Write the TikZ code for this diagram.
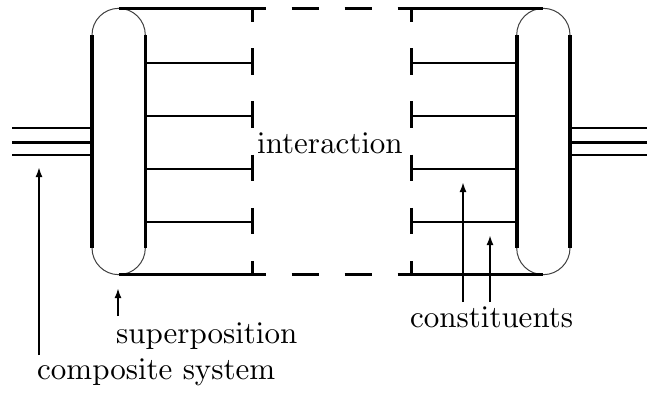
\documentclass[tikz,border=0pt]{standalone}
\usetikzlibrary{arrows.meta}
\font\lblfont=cmr10 at 31pt
\begin{document}
\begin{tikzpicture}[x=1pt,y=-1pt,
  lbl/.style={inner sep=0pt,font=\lblfont},
  railthick/.style={line width=3pt},
  sidebar/.style={line width=3.6pt},
  armline/.style={line width=2.3pt},
  arcline/.style={line width=1pt,black!75},
  dashrail/.style={line width=3pt,dash pattern=on 27pt off 26pt,dash phase=13.5pt},
  dashwall/.style={line width=3pt,dash pattern=on 26.6pt off 26.6pt,dash phase=13.3pt},
  wire/.style={line width=2pt},
  wiremid/.style={line width=3pt},
  arr/.style={line width=2pt,-{Latex[length=10pt,width=7pt]}}]
\useasboundingbox (0,0) rectangle (647,394);
% ---- left capsule
\draw[sidebar] (92,35) -- (92,248);
\draw[sidebar] (145.3,35) -- (145.3,248);
\draw[arcline] (92,35) arc[start angle=180,end angle=360,radius=26.65];
\draw[arcline] (92,248) arc[start angle=180,end angle=0,radius=26.65];
% ---- right capsule
\draw[sidebar] (516.7,35) -- (516.7,248);
\draw[sidebar] (570,35) -- (570,248);
\draw[arcline] (516.7,35) arc[start angle=180,end angle=360,radius=26.65];
\draw[arcline] (516.7,248) arc[start angle=180,end angle=0,radius=26.65];
% ---- top and bottom rails
\draw[railthick] (118.6,8.35) -- (252,8.35);
\draw[railthick] (411,8.35) -- (543.4,8.35);
\draw[railthick] (118.6,274.65) -- (252,274.65);
\draw[railthick] (411,274.65) -- (543.4,274.65);
\draw[dashrail] (252,8.35) -- (411,8.35);
\draw[dashrail] (252,274.65) -- (411,274.65);
% ---- dashed walls
\draw[dashwall] (252,8.35) -- (252,274.65);
\draw[dashwall] (411,8.35) -- (411,274.65);
% ---- constituent arms
\foreach \yy in {63,116,169,221.7}{
  \draw[armline] (145.3,\yy) -- (252,\yy);
  \draw[armline] (411,\yy) -- (516.7,\yy);
}
% ---- external wires
\draw[wire] (12,128.3) -- (92,128.3);
\draw[wiremid] (12,142.3) -- (92,142.3);
\draw[wire] (12,155) -- (92,155);
\draw[wire] (570,128.3) -- (647,128.3);
\draw[wiremid] (570,142.3) -- (647,142.3);
\draw[wire] (570,155) -- (647,155);
% ---- labels
\node[lbl,anchor=base] (inter) at (330,153) {interaction};
\node[lbl,anchor=base west] (sup) at (116,343) {superposition};
\node[lbl,anchor=base west] (comp) at (37,379) {composite system};
\node[lbl,anchor=base west] (cons) at (410,327) {constituents};
% ---- arrows
\coordinate (compS) at (39,355);
\coordinate (compT) at (39,167);
\coordinate (supS) at (118,316);
\coordinate (supT) at (118,288);
\coordinate (consAS) at (463,302);
\coordinate (consAT) at (463,182);
\coordinate (consBS) at (490,302);
\coordinate (consBT) at (490,235);
\draw[arr] (compS) -- (compT);
\draw[arr] (supS) -- (supT);
\draw[arr] (consAS) -- (consAT);
\draw[arr] (consBS) -- (consBT);
\end{tikzpicture}
\end{document}
